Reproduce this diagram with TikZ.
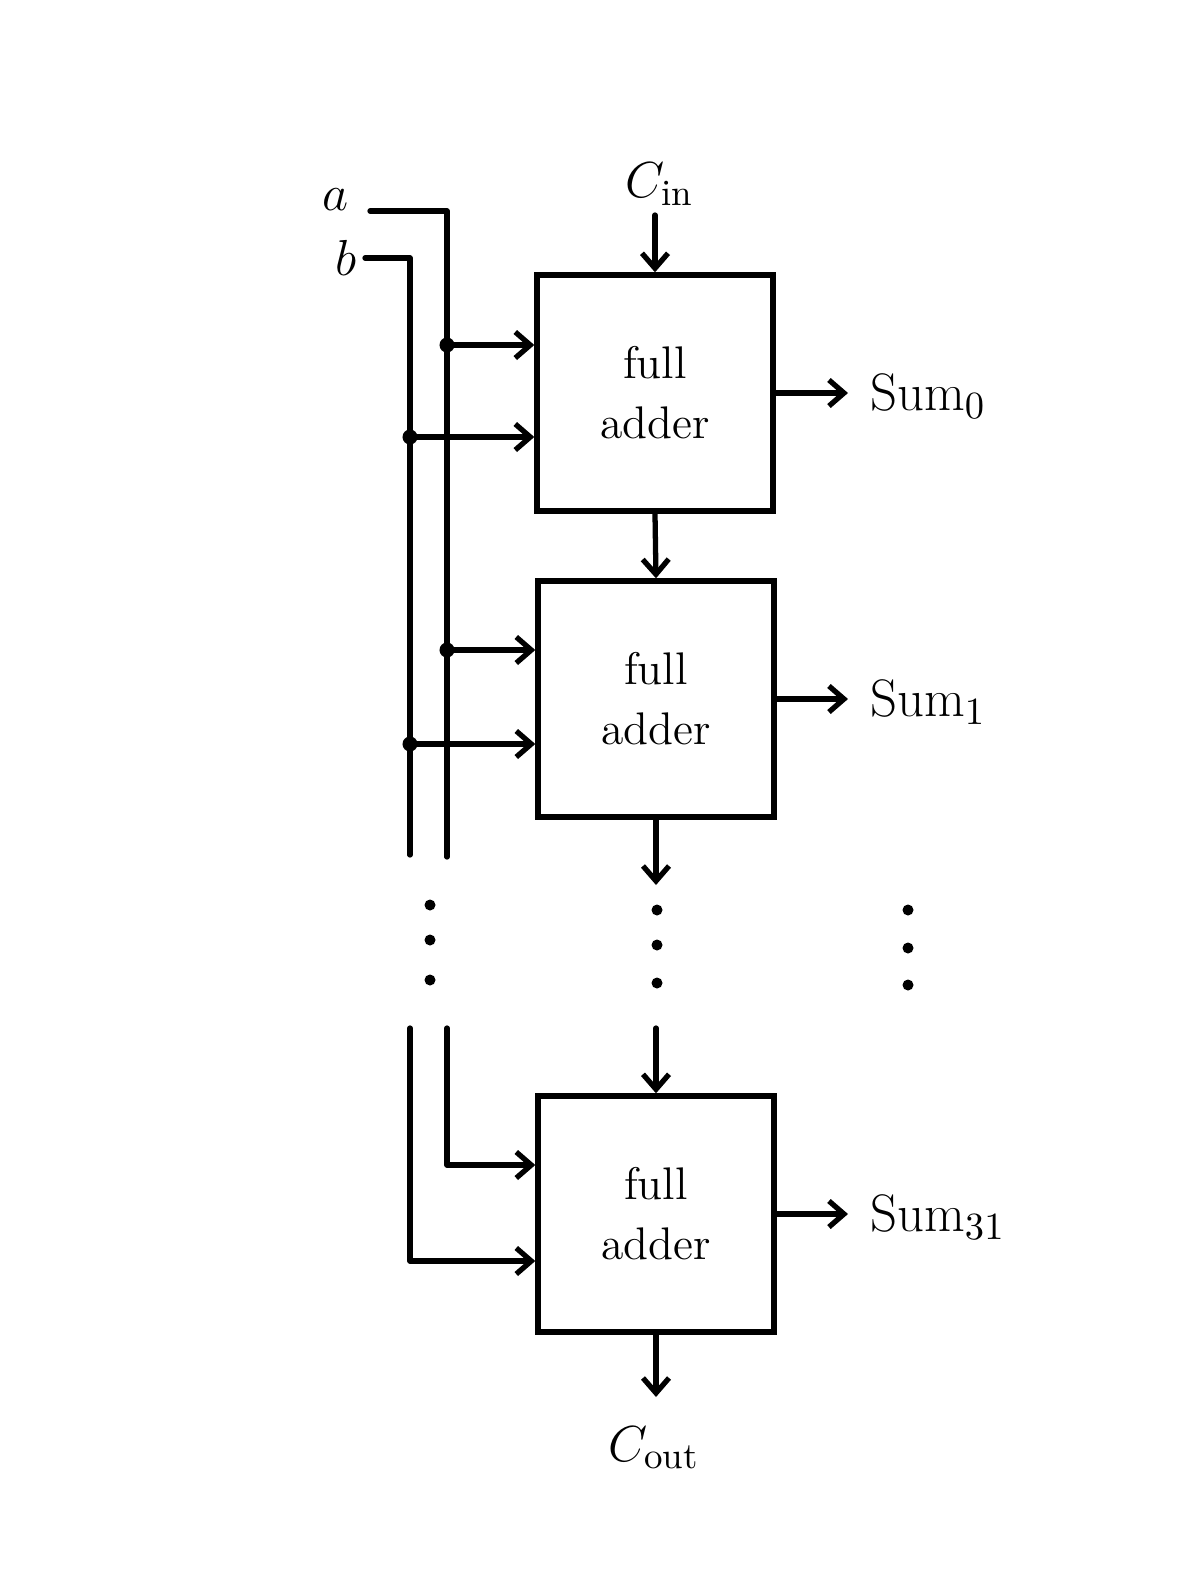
\documentclass[tikz,border=0pt]{standalone}
\usepackage{amsmath}
\usetikzlibrary{arrows.meta,positioning,calc}
\tikzset{
  every picture/.style={line width=1.5pt},
  fabox/.style={draw, minimum width=2.36cm, minimum height=2.36cm,
                align=center, font=\fontsize{13}{17}\selectfont, inner sep=0pt},
  wire/.style={line cap=round, line join=round},
  sig/.style={wire, -{Straight Barb[length=1.5mm, width=2.6mm]}},
  sjoin/.style={circle, fill=black, inner sep=0pt, minimum size=0.15cm},
  sdot/.style={circle, fill=black, inner sep=0pt, minimum size=0.11cm},
  slabel/.style={font=\fontsize{15}{18}\selectfont},
}

\begin{document}
\begin{tikzpicture}[x=0.01cm, y=-0.01cm]
  \useasboundingbox (0,0) rectangle (1183,1572);

  % adder cells
  \node[fabox] (fa0) at (655,393) {full\\adder};
  \node[fabox] (fa1) at (656,699) {full\\adder};
  \node[fabox] (fa31) at (656,1214) {full\\adder};

  % operand inputs
  \node[slabel] (a) at (336,200) {$a$};
  \node[slabel] (b) at (346,258) {$b$};
  \coordinate (aStart) at (370,211);
  \coordinate (bStart) at (365,258);
  \coordinate (aTop) at (447,211);
  \coordinate (bTop) at (410,258);
  \coordinate (aEnd) at (447,857);
  \coordinate (bEnd) at (410,855);
  \coordinate (aLow) at (447,1028);
  \coordinate (bLow) at (410,1028);
  \draw[wire] (aStart) -- (aTop) -- (aEnd);
  \draw[wire] (bStart) -- (bTop) -- (bEnd);

  \node[sjoin] (ja0) at (447,345) {};
  \node[sjoin] (jb0) at (410,437) {};
  \node[sjoin] (ja1) at (447,650) {};
  \node[sjoin] (jb1) at (410,744) {};
  \draw[sig] (ja0.center) -- (ja0 -| fa0.west);
  \draw[sig] (jb0.center) -- (jb0 -| fa0.west);
  \draw[sig] (ja1.center) -- (ja1 -| fa1.west);
  \draw[sig] (jb1.center) -- (jb1 -| fa1.west);

  \coordinate (ja31) at (447,1165);
  \coordinate (jb31) at (410,1261);
  \draw[sig] (aLow) -- (ja31) -- (ja31 -| fa31.west);
  \draw[sig] (bLow) -- (jb31) -- (jb31 -| fa31.west);

  % carry chain
  \node[slabel] (cin) at (660,184) {$C_{\text{in}}$};
  \coordinate (cinStart) at (655,215);
  \draw[sig] (cinStart) -- (fa0.north);
  \draw[sig] (fa0.south) -- (fa1.north);
  \coordinate (c1) at (656,885);
  \draw[sig] (fa1.south) -- (c1);
  \coordinate (c30) at (656,1028);
  \draw[sig] (c30) -- (fa31.north);
  \coordinate (c31) at (656,1397);
  \draw[sig] (fa31.south) -- (c31);
  \node[slabel] (cout) at (654,1448) {$C_{\text{out}}$};

  % sums
  \coordinate (s0) at (848,393);
  \coordinate (s1) at (848,699);
  \coordinate (s31) at (848,1214);
  \draw[sig] (fa0.east) -- (s0);
  \draw[sig] (fa1.east) -- (s1);
  \draw[sig] (fa31.east) -- (s31);
  \node[slabel, anchor=west] (sum0) at (856,396) {Sum$_0$};
  \node[slabel, anchor=west] (sum1) at (856,702) {Sum$_1$};
  \node[slabel, anchor=west] (sum31) at (856,1217) {Sum$_{31}$};

  % ellipses
  \foreach \y in {905,940,980} \node[sdot] at (430,\y) {};
  \foreach \y in {910,945,983} \node[sdot] at (657,\y) {};
  \foreach \y in {910,948,985} \node[sdot] at (908,\y) {};
\end{tikzpicture}
\end{document}
